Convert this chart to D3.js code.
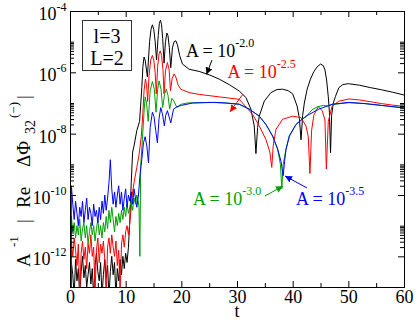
<!DOCTYPE html>
<html>
<head>
<meta charset="utf-8">
<script src="https://cdn.jsdelivr.net/npm/d3@7"></script>
<style>
  body { margin: 0; background: #fff; }
  text { font-family: "Liberation Serif", "Times New Roman", serif; }
</style>
</head>
<body>
<script>
// values are stored as log10 of A^-1 |Re dPhi|
const noiseT = [0.25, 0.5, 0.75, 1.0, 1.25, 1.5, 1.75, 2.0, 2.25, 2.5, 2.75, 3.0, 3.25, 3.5,
  3.75, 4.0, 4.25, 4.5, 4.75, 5.0, 5.25, 5.5, 5.75, 6.0, 6.25, 6.5, 6.75, 7.0, 7.25, 7.5,
  7.75, 8.0, 8.25, 8.5, 8.75, 9.0, 9.25, 9.5, 9.75, 10.0, 10.25, 10.5];

const blackNoise = [-12.2, -12.6, -13.3, -12.1, -12.8, -12.4, -13.3, -12.5, -12.0, -12.7, -12.3, -13.0,
  -12.6, -12.2, -12.9, -12.4, -13.3, -12.3, -11.9, -12.5, -12.8, -12.2, -13.3, -12.6, -12.1, -12.7,
  -12.3, -13.3, -12.5, -12.0, -12.6, -12.2, -13.3, -12.4, -12.8, -12.1, -12.6, -12.0, -12.4, -11.9,
  -12.2, -11.7];
const redNoise = [-11.5, -12.0, -11.4, -11.8, -12.3, -11.6, -13.3, -11.9, -11.5, -12.1, -11.7, -12.4,
  -11.6, -11.9, -11.3, -12.0, -11.7, -13.2, -11.8, -11.4, -12.2, -11.6, -11.9, -11.5, -12.1, -13.3,
  -11.7, -11.4, -11.9, -11.3, -11.7, -12.0, -11.5, -12.3, -11.8, -13.2, -11.6, -11.3, -11.7, -11.2,
  -11.0, -11.3];
const greenNoise = [-10.7, -11.2, -10.9, -11.4, -11.0, -11.3, -10.8, -11.5, -11.1, -10.9, -11.4, -11.0,
  -11.6, -11.2, -10.9, -11.3, -11.0, -11.5, -11.1, -10.8, -11.3, -11.0, -11.4, -10.9, -11.2, -10.7,
  -11.1, -10.5, -10.9, -10.4, -10.8, -11.2, -10.7, -11.0, -10.6, -10.9, -10.5, -10.8, -10.4, -10.7,
  -10.3, -10.6];
const blueNoise = [-9.7, -10.3, -10.8, -10.2, -10.6, -11.0, -10.4, -10.7, -10.2, -10.9, -10.5, -10.1,
  -10.8, -10.4, -10.6, -11.0, -10.3, -10.7, -10.5, -10.9, -10.4, -10.8, -10.2, -10.6, -10.0, -10.5,
  -10.1, -9.6, -8.85, -9.8, -10.3, -9.9, -10.4, -10.0, -9.7, -10.3, -9.9, -10.5, -10.1, -9.8,
  -10.4, -10.0];

const blackRest = [[10.75,-10.8],[11.0,-9.6],[11.25,-8.6],[11.5,-8.4],[12.0,-7.9],[12.5,-7.6],
  [12.9,-6.5],[13.1,-5.8],[13.3,-5.5],[13.5,-5.6],[13.9,-6.15],[14.3,-5.0],[14.55,-4.6],[14.8,-4.45],
  [15.05,-4.6],[15.3,-5.0],[15.55,-5.6],[15.85,-4.8],[16.05,-4.4],[16.25,-4.3],[16.45,-4.45],
  [16.65,-4.9],[16.9,-5.7],[17.15,-5.0],[17.4,-4.72],[17.6,-4.8],[17.85,-5.2],[18.1,-5.85],
  [18.4,-5.2],[18.7,-5.0],[19.0,-4.97],[19.3,-5.1],[19.7,-5.45],[20.2,-5.73],[21.4,-5.9],
  [23.2,-5.97],[25,-6.08],[26.8,-6.22],[28.6,-6.4],[30.4,-6.61],[31.6,-6.82],[32.5,-7.2],
  [33.1,-7.75],[33.4,-8.65],[33.7,-7.8],[34.0,-7.43],[34.9,-6.94],[36.1,-6.66],[37.2,-6.56],
  [38.2,-6.55],[39.2,-6.6],[40.0,-6.7],[40.8,-7.1],[41.2,-7.5],[41.5,-8.2],[41.8,-7.4],[42.1,-7.0],
  [42.6,-6.55],[43.2,-6.22],[43.8,-5.98],[44.4,-5.82],[45.0,-5.73],[45.5,-5.78],[45.8,-5.92],
  [46.1,-6.25],[46.4,-6.8],[46.6,-7.3],[46.8,-8.62],[47.0,-7.4],[47.3,-7.0],[47.7,-6.78],
  [48.3,-6.5],[49.0,-6.4],[50.0,-6.37],[52,-6.42],[54,-6.5],[56,-6.57],[58,-6.65],[60,-6.74]];

const redRest = [[10.75,-10.9],[11.0,-10.4],[11.25,-9.9],[11.5,-9.6],[12.0,-9.1],[12.4,-8.7],
  [12.8,-8.1],[13.1,-7.3],[13.3,-6.6],[13.55,-6.22],[13.75,-6.4],[13.95,-6.95],[14.2,-6.1],
  [14.5,-5.6],[14.8,-5.45],[15.05,-5.6],[15.3,-6.0],[15.5,-6.7],[15.75,-5.8],[16.0,-5.4],
  [16.2,-5.3],[16.45,-5.45],[16.7,-5.9],[16.9,-6.7],[17.15,-5.95],[17.5,-5.68],[17.8,-5.9],
  [18.05,-6.6],[18.35,-6.2],[18.7,-6.05],[19.0,-6.15],[19.4,-6.4],[19.9,-6.55],[21.4,-6.66],
  [23.2,-6.72],[26.8,-6.8],[30.4,-6.88],[32.8,-7.37],[34.0,-7.75],[35.2,-8.19],[35.9,-8.6],
  [36.25,-9.1],[36.5,-8.4],[37.0,-7.86],[38.2,-7.53],[40.0,-7.43],[41.5,-7.48],[42.4,-7.75],
  [42.8,-8.1],[43.1,-9.3],[43.4,-7.9],[43.8,-7.4],[44.6,-7.12],[45.3,-7.25],[45.8,-7.55],
  [46.05,-9.15],[46.4,-7.6],[47.1,-7.1],[48.3,-6.94],[50.1,-6.87],[52,-6.9],[54,-6.96],
  [56,-7.02],[58,-7.07],[60,-7.11]];

const greenRest = [[10.75,-10.4],[11.0,-10.2],[11.25,-10.5],[11.5,-10.1],[11.75,-10.3],[12.0,-10.0],
  [12.25,-10.2],[12.4,-10.4],[12.55,-12.0],[12.7,-9.06],[13.0,-8.2],[13.3,-7.3],[13.5,-6.8],
  [13.75,-7.0],[14.05,-7.6],[14.4,-6.6],[14.8,-6.3],[15.15,-6.55],[15.45,-7.3],[15.75,-6.55],
  [16.0,-6.28],[16.35,-6.55],[16.65,-7.15],[17.0,-6.7],[17.3,-6.55],[17.6,-6.75],[17.9,-7.2],
  [18.3,-6.85],[18.7,-6.95],[19.2,-7.15],[19.8,-7.05],[21,-7.0],[25,-6.98],[28,-7.0],[30.4,-7.04],
  [32.2,-7.2],[34.0,-7.43],[35.2,-7.7],[36.4,-8.08],[37.3,-8.5],[37.8,-9.0],[38.05,-9.8],
  [38.3,-9.0],[38.8,-8.5],[39.4,-8.08],[40.6,-7.7],[41.5,-7.55],[42.4,-7.45],[43.5,-7.22],
  [44.5,-7.12],[45.5,-7.08],[46.3,-7.1],[47.1,-7.05],[50.1,-6.99],[53,-7.02],[56,-7.08],[60,-7.16]];

const blueRest = [[10.75,-10.2],[11.0,-9.9],[11.25,-10.3],[11.5,-9.8],[11.75,-10.1],[12.0,-10.4],
  [12.3,-10.0],[12.6,-9.3],[12.9,-8.84],[13.2,-8.3],[13.5,-8.1],[13.8,-8.4],[14.1,-8.95],
  [14.4,-7.8],[14.8,-7.3],[15.1,-7.45],[15.4,-7.9],[15.7,-8.3],[16.0,-7.5],[16.3,-7.15],
  [16.6,-7.35],[16.95,-7.75],[17.2,-7.4],[17.5,-7.25],[17.8,-7.45],[18.1,-7.65],[18.6,-7.2],
  [19.2,-7.12],[20,-7.08],[22,-7.0],[26,-6.98],[28,-7.0],[30.4,-7.04],[32.2,-7.2],[34.0,-7.43],
  [35.2,-7.7],[36.4,-8.08],[37.3,-8.5],[37.9,-8.9],[38.3,-9.37],[38.55,-8.9],[38.8,-8.52],
  [39.4,-8.08],[40.6,-7.7],[42.4,-7.43],[44.7,-7.2],[47.1,-7.04],[50.1,-6.98],[53,-7.02],
  [56,-7.08],[60,-7.16]];

const xTicks = [0, 10, 20, 30, 40, 50, 60];
const xMinor = [5, 15, 25, 35, 45, 55];
const yMajorExp = [-4, -6, -8, -10, -12];
const yMinorExp = [-6, -8, -10, -12];
const yMinorMult = [2, 3, 4, 5, 6, 7, 8, 9, 10];

const seriesNames = ["black", "red", "green", "blue"];
const seriesColors = ["#000000", "#ff0000", "#00a000", "#0000ff"];
const seriesLabels = ["-2.0", "-2.5", "-3.0", "-3.5"];
// label anchor [t, log10], arrow tail and head [t, log10]
const labelPos = [[20.84, -5.5], [28.29, -6.19], [22.1, -10.31], [40.6, -10.33]];
const arrowFrom = [[25.5, -5.6], [31.08, -6.71], [35.03, -10.03], [42.57, -9.77]];
const arrowTo = [[24.52, -6.07], [28.74, -7.29], [38.26, -9.71], [38.62, -9.38]];

const build = (noise, rest) => [[0, -20]]
  .concat(noiseT.map((t, i) => [t, noise[i]]))
  .concat(rest)
  .map(d => [d[0], Math.pow(10, d[1])]);

const series = [build(blackNoise, blackRest), build(redNoise, redRest),
  build(greenNoise, greenRest), build(blueNoise, blueRest)];

const width = 415, height = 320;
const x = d3.scaleLinear().domain([0, 60]).range([70, 404]);
const y = d3.scaleLog().domain([1e-13, 1e-4]).range([287, 11]);

const svg = d3.select("body").append("svg")
  .attr("width", width)
  .attr("height", height);

svg.append("defs").append("clipPath").attr("id", "plot")
  .append("rect")
  .attr("x", 70.5).attr("y", 11.5)
  .attr("width", 334).attr("height", 276);

seriesColors.forEach(c => {
  svg.select("defs").append("marker")
    .attr("id", "arr" + c.slice(1))
    .attr("viewBox", "0 0 10 10")
    .attr("refX", 10).attr("refY", 5)
    .attr("markerWidth", 7).attr("markerHeight", 7)
    .attr("markerUnits", "userSpaceOnUse")
    .attr("orient", "auto")
    .append("path")
    .attr("d", "M0,0 L10,5 L0,10 z")
    .attr("fill", c);
});

const line = d3.line()
  .x(d => x(d[0]))
  .y(d => y(d[1]));

svg.append("g").attr("clip-path", "url(#plot)")
  .selectAll("path")
  .data(series)
  .join("path")
  .attr("fill", "none")
  .attr("stroke", (d, i) => seriesColors[i])
  .attr("stroke-width", 1)
  .attr("d", line);

// axes
const fontFam = '"Liberation Serif", "Times New Roman", serif';

const bottom = svg.append("g").attr("transform", "translate(0,287)")
  .call(d3.axisBottom(x).tickValues(xTicks).tickSize(-6).tickPadding(3).tickFormat(d3.format("d")));
bottom.attr("font-size", 18).attr("font-family", fontFam);
svg.append("g").attr("transform", "translate(0,287)")
  .call(d3.axisBottom(x).tickValues(xMinor).tickSize(-4).tickFormat(""));
svg.append("g").attr("transform", "translate(0,11)")
  .call(d3.axisTop(x).tickValues(xTicks).tickSize(-6).tickFormat(""));
svg.append("g").attr("transform", "translate(0,11)")
  .call(d3.axisTop(x).tickValues(xMinor).tickSize(-4).tickFormat(""));

const yMajor = yMajorExp.map(e => Math.pow(10, e));
const yMinor = [];
yMinorExp.forEach(e => yMinorMult.forEach(k => yMinor.push(k * Math.pow(10, e))));

const left = svg.append("g").attr("transform", "translate(70,0)")
  .call(d3.axisLeft(y).tickValues(yMajor).tickSize(-6).tickPadding(3.5).tickFormat(""));
svg.append("g").attr("transform", "translate(70,0)")
  .call(d3.axisLeft(y).tickValues(yMinor).tickSize(-4).tickFormat(""));
svg.append("g").attr("transform", "translate(404,0)")
  .call(d3.axisRight(y).tickValues(yMajor).tickSize(-6).tickFormat(""));
svg.append("g").attr("transform", "translate(404,0)")
  .call(d3.axisRight(y).tickValues(yMinor).tickSize(-4).tickFormat(""));

left.attr("font-family", fontFam);
left.selectAll(".tick text")
  .attr("dy", 8.5)
  .each(function(d, i) {
    const t = d3.select(this);
    t.append("tspan").attr("font-size", 18).text("10");
    t.append("tspan").attr("font-size", 12).attr("dy", -9.5).text(yMajorExp[i]);
  });

svg.selectAll(".domain").remove();
svg.selectAll(".tick line").attr("stroke", "#000");

svg.append("rect")
  .attr("x", 70.5).attr("y", 11.5)
  .attr("width", 334).attr("height", 276)
  .attr("fill", "none").attr("stroke", "#000");

// axis titles
svg.append("text")
  .attr("x", 237).attr("y", 317)
  .attr("text-anchor", "middle")
  .attr("font-size", 18)
  .text("t");

const ylab = svg.append("text").attr("transform", "translate(30,0) rotate(-90)");
ylab.append("tspan").attr("x", -267).attr("y", 0).attr("font-size", 19).text("A");
ylab.append("tspan").attr("x", -247).attr("y", -12).attr("font-size", 13).text("-1");
ylab.append("tspan").attr("x", -223).attr("y", 0).attr("font-size", 19).text("|");
ylab.append("tspan").attr("x", -208).attr("y", 0).attr("font-size", 19).text("Re");
ylab.append("tspan").attr("x", -167).attr("y", 0).attr("font-size", 19).text("ΔΦ");
ylab.append("tspan").attr("x", -134).attr("y", 5).attr("font-size", 14).text("32");
ylab.append("tspan").attr("x", -118).attr("y", -12).attr("font-size", 13).text("(−)");
ylab.append("tspan").attr("x", -99).attr("y", 0).attr("font-size", 19).text("|");

// legend box
svg.append("rect")
  .attr("x", 82.5).attr("y", 20.5)
  .attr("width", 49).attr("height", 50)
  .attr("fill", "#fff").attr("stroke", "#333");
svg.append("text").attr("x", 107).attr("y", 43).attr("text-anchor", "middle")
  .attr("font-size", 20).text("l=3");
svg.append("text").attr("x", 107).attr("y", 65).attr("text-anchor", "middle")
  .attr("font-size", 20).text("L=2");

// annotations
seriesNames.forEach((name, i) => {
  svg.append("line")
    .attr("x1", x(arrowFrom[i][0])).attr("y1", y(Math.pow(10, arrowFrom[i][1])))
    .attr("x2", x(arrowTo[i][0])).attr("y2", y(Math.pow(10, arrowTo[i][1])))
    .attr("stroke", seriesColors[i])
    .attr("stroke-width", 1)
    .attr("marker-end", "url(#arr" + seriesColors[i].slice(1) + ")");
  const t = svg.append("text")
    .attr("x", x(labelPos[i][0]))
    .attr("y", y(Math.pow(10, labelPos[i][1])))
    .attr("fill", seriesColors[i]);
  t.append("tspan").attr("font-size", 18).text("A = 10");
  t.append("tspan").attr("font-size", 12).attr("dy", -10).text(seriesLabels[i]);
});
</script>
</body>
</html>
